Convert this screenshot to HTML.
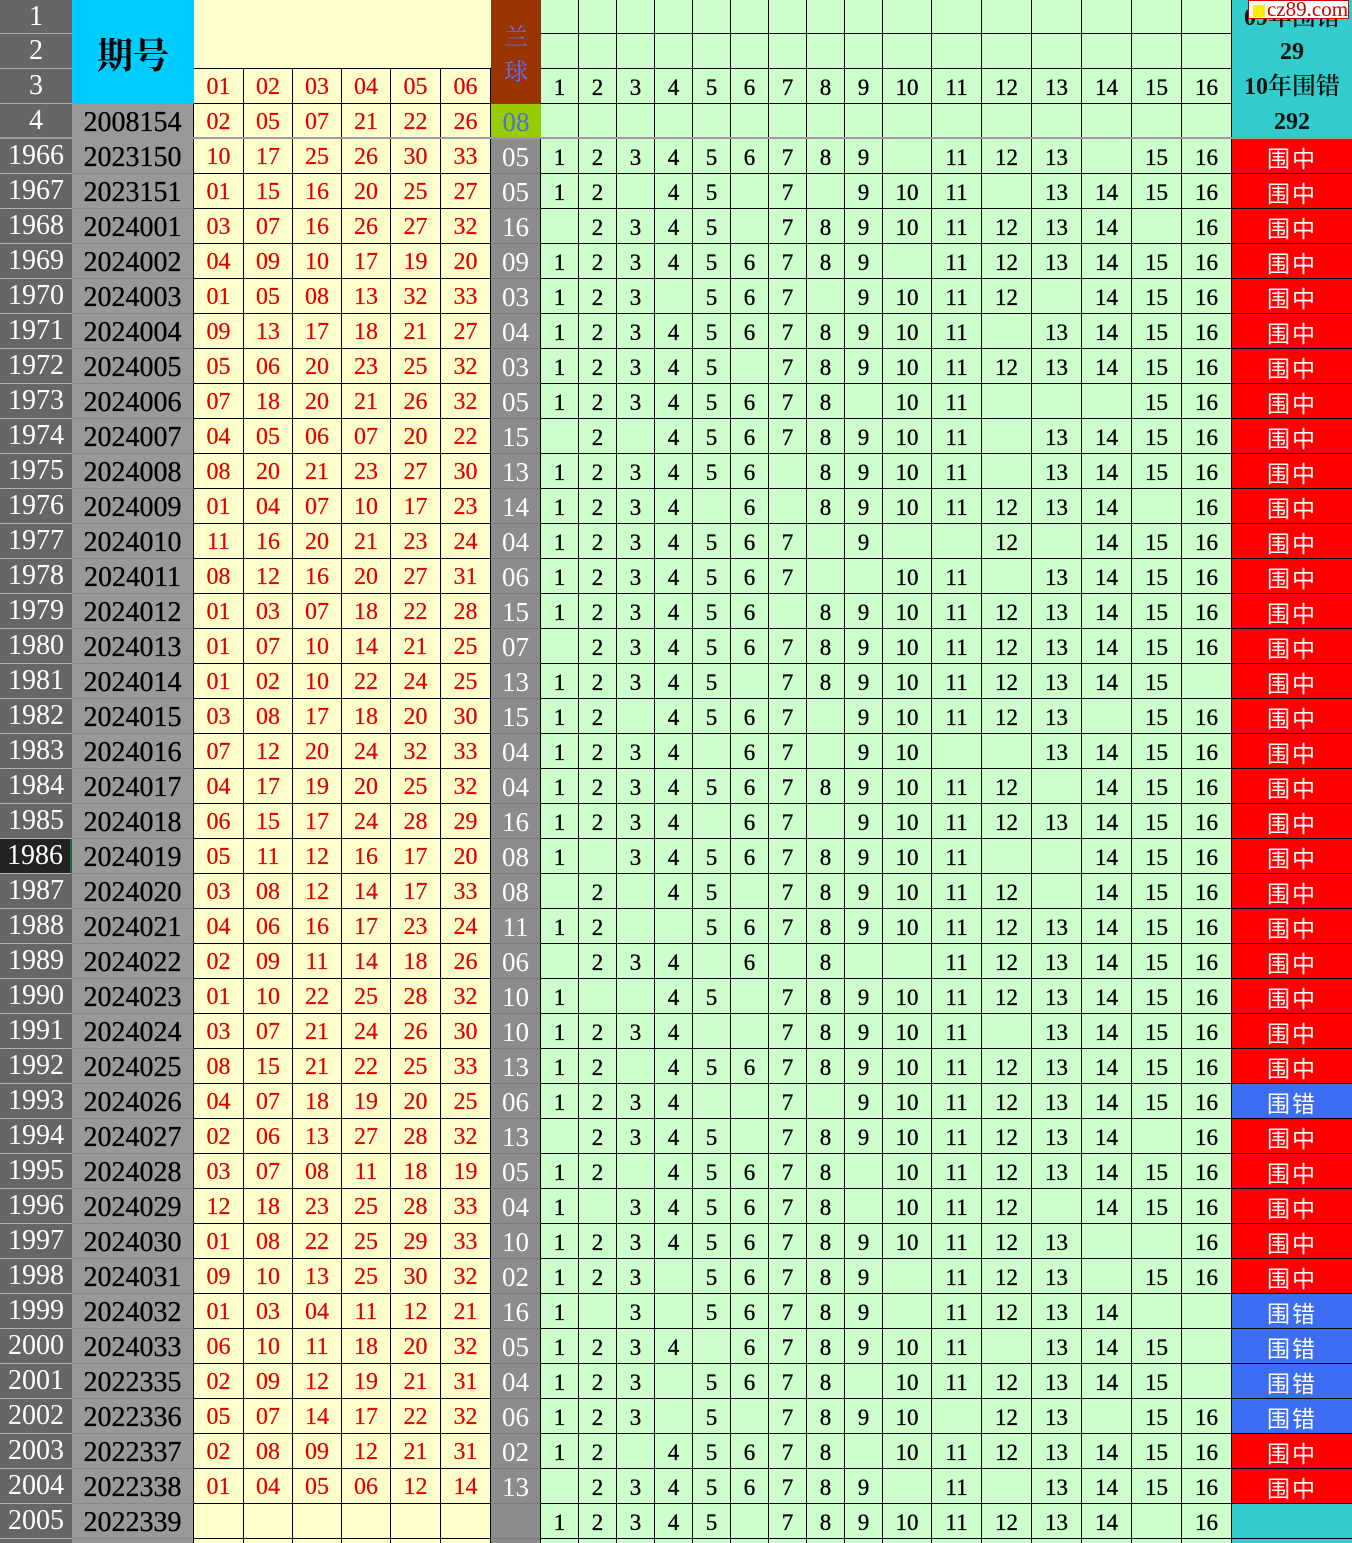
<!DOCTYPE html>
<html><head><meta charset="utf-8">
<style>
*{margin:0;padding:0;box-sizing:border-box}
html,body{width:1352px;height:1543px;overflow:hidden;background:#fff}
body{position:relative;font-family:"Liberation Serif","Noto Serif CJK SC",serif}
.g{display:grid;grid-template-columns:72px 122px 50px 49px 49px 49px 50px 50px 50px repeat(9,38px) 49px repeat(6,50px) 120px}
.h{grid-template-rows:34px 35px 35px 35px;height:139px}
b{font-weight:normal;display:block;text-align:center;overflow:hidden;white-space:nowrap}
.n{background:#666;color:#fff;font-size:28px;line-height:33px;border-bottom:1px solid #aaa}
.q{grid-column:2;grid-row:1/4;background:#00ccff;color:#000;font-family:"Noto Serif CJK SC",serif;font-weight:700;font-size:36px;line-height:104px;padding-top:2px}
.y{grid-column:3/9;grid-row:1/3;background:#ffffcc;border-bottom:1px solid #000}
.lq{grid-column:9;grid-row:1/4;background:#993300;color:#5f72f8;font-family:"Noto Serif CJK SC",serif;font-size:24px;line-height:35px;padding-top:17px;white-space:normal}
.gr{background:#ccffcc;color:#000;font-size:23px;line-height:37px;border-right:1px solid #000;border-bottom:1px solid #000;-webkit-text-stroke:0.35px #000}
.rd{background:#ffffcc;color:#e00000;font-size:24px;line-height:37px;border-right:1px solid #000;border-bottom:1px solid #000;-webkit-text-stroke:0.2px #e00000}
.tl{background:#33cccc;color:#111;font-size:24px;line-height:37px;font-family:"Liberation Serif","Noto Serif CJK SC",serif;font-weight:600}
.p{background:#999;color:#000;font-size:28px;line-height:37px;border-right:1px solid #000;-webkit-text-stroke:0.3px #000}
.lm{background:#99cc00;color:#4f6fd6;font-size:27px;line-height:37px}
.r{height:35px}
.r b{height:35px;line-height:37px}
.r b:nth-child(1){background:#666;color:#fff;font-size:28px;line-height:33px;border-bottom:1px solid #b0b0b0}
.r b:nth-child(2){background:#999;color:#000;font-size:28px;border-right:1px solid #000;border-bottom:1px solid #8a8a8a;-webkit-text-stroke:0.3px #000}
.r b:nth-child(n+3):nth-child(-n+8){background:#ffffcc;color:#e00000;font-size:24px;border-right:1px solid #000;border-bottom:1px solid #000;-webkit-text-stroke:0.2px #e00000}
.r b:nth-child(9){background:#8c8c8c;color:#fff;font-size:27px;border-right:1px solid #000;border-bottom:1px solid #7c7c7c}
.r b:nth-child(n+10):nth-child(-n+25){background:#ccffcc;color:#000;font-size:23px;border-right:1px solid #000;border-bottom:1px solid #000;-webkit-text-stroke:0.35px #000}
.r b:nth-child(26){background:#ff0000;color:#fff;font-family:"Noto Sans CJK SC",sans-serif;font-size:23px;letter-spacing:2px;border-bottom:1px solid #000}
.r b.e{background:#3d6df2}
.r b.t{background:#33cccc}
.r b.k{background:#222;border-right:2px solid #1d6b3d}
.line{position:absolute;left:0;top:137px;width:1352px;height:2px;background:#9c9c9c}
.wm{position:absolute;left:1248px;top:0;width:101px;height:19px;background:#fff;border:1px solid #c00;}
.wm i{position:absolute;left:4px;top:4px;width:12px;height:12px;background:#ffee00}
.wm span{position:absolute;left:18px;top:-3px;font-size:21px;line-height:22px;color:#cc0000;font-family:"Liberation Serif",serif}
</style></head><body>
<div class="g h">
<b class="q">期号</b><b class="y"></b><b class="lq">兰<br>球</b>
<b class="n">1</b><b class="gr"></b><b class="gr"></b><b class="gr"></b><b class="gr"></b><b class="gr"></b><b class="gr"></b><b class="gr"></b><b class="gr"></b><b class="gr"></b><b class="gr"></b><b class="gr"></b><b class="gr"></b><b class="gr"></b><b class="gr"></b><b class="gr"></b><b class="gr"></b><b class="tl">09年围错</b>
<b class="n">2</b><b class="gr"></b><b class="gr"></b><b class="gr"></b><b class="gr"></b><b class="gr"></b><b class="gr"></b><b class="gr"></b><b class="gr"></b><b class="gr"></b><b class="gr"></b><b class="gr"></b><b class="gr"></b><b class="gr"></b><b class="gr"></b><b class="gr"></b><b class="gr"></b><b class="tl">29</b>
<b class="n">3</b><b class="rd">01</b><b class="rd">02</b><b class="rd">03</b><b class="rd">04</b><b class="rd">05</b><b class="rd">06</b><b class="gr">1</b><b class="gr">2</b><b class="gr">3</b><b class="gr">4</b><b class="gr">5</b><b class="gr">6</b><b class="gr">7</b><b class="gr">8</b><b class="gr">9</b><b class="gr">10</b><b class="gr">11</b><b class="gr">12</b><b class="gr">13</b><b class="gr">14</b><b class="gr">15</b><b class="gr">16</b><b class="tl">10年围错</b>
<b class="n">4</b><b class="p">2008154</b><b class="rd">02</b><b class="rd">05</b><b class="rd">07</b><b class="rd">21</b><b class="rd">22</b><b class="rd">26</b><b class="lm">08</b><b class="gr"></b><b class="gr"></b><b class="gr"></b><b class="gr"></b><b class="gr"></b><b class="gr"></b><b class="gr"></b><b class="gr"></b><b class="gr"></b><b class="gr"></b><b class="gr"></b><b class="gr"></b><b class="gr"></b><b class="gr"></b><b class="gr"></b><b class="gr"></b><b class="tl">292</b>
</div>
<div class="line"></div>
<div class="g r"><b>1966</b><b>2023150</b><b>10</b><b>17</b><b>25</b><b>26</b><b>30</b><b>33</b><b>05</b><b>1</b><b>2</b><b>3</b><b>4</b><b>5</b><b>6</b><b>7</b><b>8</b><b>9</b><b></b><b>11</b><b>12</b><b>13</b><b></b><b>15</b><b>16</b><b>围中</b></div>
<div class="g r"><b>1967</b><b>2023151</b><b>01</b><b>15</b><b>16</b><b>20</b><b>25</b><b>27</b><b>05</b><b>1</b><b>2</b><b></b><b>4</b><b>5</b><b></b><b>7</b><b></b><b>9</b><b>10</b><b>11</b><b></b><b>13</b><b>14</b><b>15</b><b>16</b><b>围中</b></div>
<div class="g r"><b>1968</b><b>2024001</b><b>03</b><b>07</b><b>16</b><b>26</b><b>27</b><b>32</b><b>16</b><b></b><b>2</b><b>3</b><b>4</b><b>5</b><b></b><b>7</b><b>8</b><b>9</b><b>10</b><b>11</b><b>12</b><b>13</b><b>14</b><b></b><b>16</b><b>围中</b></div>
<div class="g r"><b>1969</b><b>2024002</b><b>04</b><b>09</b><b>10</b><b>17</b><b>19</b><b>20</b><b>09</b><b>1</b><b>2</b><b>3</b><b>4</b><b>5</b><b>6</b><b>7</b><b>8</b><b>9</b><b></b><b>11</b><b>12</b><b>13</b><b>14</b><b>15</b><b>16</b><b>围中</b></div>
<div class="g r"><b>1970</b><b>2024003</b><b>01</b><b>05</b><b>08</b><b>13</b><b>32</b><b>33</b><b>03</b><b>1</b><b>2</b><b>3</b><b></b><b>5</b><b>6</b><b>7</b><b></b><b>9</b><b>10</b><b>11</b><b>12</b><b></b><b>14</b><b>15</b><b>16</b><b>围中</b></div>
<div class="g r"><b>1971</b><b>2024004</b><b>09</b><b>13</b><b>17</b><b>18</b><b>21</b><b>27</b><b>04</b><b>1</b><b>2</b><b>3</b><b>4</b><b>5</b><b>6</b><b>7</b><b>8</b><b>9</b><b>10</b><b>11</b><b></b><b>13</b><b>14</b><b>15</b><b>16</b><b>围中</b></div>
<div class="g r"><b>1972</b><b>2024005</b><b>05</b><b>06</b><b>20</b><b>23</b><b>25</b><b>32</b><b>03</b><b>1</b><b>2</b><b>3</b><b>4</b><b>5</b><b></b><b>7</b><b>8</b><b>9</b><b>10</b><b>11</b><b>12</b><b>13</b><b>14</b><b>15</b><b>16</b><b>围中</b></div>
<div class="g r"><b>1973</b><b>2024006</b><b>07</b><b>18</b><b>20</b><b>21</b><b>26</b><b>32</b><b>05</b><b>1</b><b>2</b><b>3</b><b>4</b><b>5</b><b>6</b><b>7</b><b>8</b><b></b><b>10</b><b>11</b><b></b><b></b><b></b><b>15</b><b>16</b><b>围中</b></div>
<div class="g r"><b>1974</b><b>2024007</b><b>04</b><b>05</b><b>06</b><b>07</b><b>20</b><b>22</b><b>15</b><b></b><b>2</b><b></b><b>4</b><b>5</b><b>6</b><b>7</b><b>8</b><b>9</b><b>10</b><b>11</b><b></b><b>13</b><b>14</b><b>15</b><b>16</b><b>围中</b></div>
<div class="g r"><b>1975</b><b>2024008</b><b>08</b><b>20</b><b>21</b><b>23</b><b>27</b><b>30</b><b>13</b><b>1</b><b>2</b><b>3</b><b>4</b><b>5</b><b>6</b><b></b><b>8</b><b>9</b><b>10</b><b>11</b><b></b><b>13</b><b>14</b><b>15</b><b>16</b><b>围中</b></div>
<div class="g r"><b>1976</b><b>2024009</b><b>01</b><b>04</b><b>07</b><b>10</b><b>17</b><b>23</b><b>14</b><b>1</b><b>2</b><b>3</b><b>4</b><b></b><b>6</b><b></b><b>8</b><b>9</b><b>10</b><b>11</b><b>12</b><b>13</b><b>14</b><b></b><b>16</b><b>围中</b></div>
<div class="g r"><b>1977</b><b>2024010</b><b>11</b><b>16</b><b>20</b><b>21</b><b>23</b><b>24</b><b>04</b><b>1</b><b>2</b><b>3</b><b>4</b><b>5</b><b>6</b><b>7</b><b></b><b>9</b><b></b><b></b><b>12</b><b></b><b>14</b><b>15</b><b>16</b><b>围中</b></div>
<div class="g r"><b>1978</b><b>2024011</b><b>08</b><b>12</b><b>16</b><b>20</b><b>27</b><b>31</b><b>06</b><b>1</b><b>2</b><b>3</b><b>4</b><b>5</b><b>6</b><b>7</b><b></b><b></b><b>10</b><b>11</b><b></b><b>13</b><b>14</b><b>15</b><b>16</b><b>围中</b></div>
<div class="g r"><b>1979</b><b>2024012</b><b>01</b><b>03</b><b>07</b><b>18</b><b>22</b><b>28</b><b>15</b><b>1</b><b>2</b><b>3</b><b>4</b><b>5</b><b>6</b><b></b><b>8</b><b>9</b><b>10</b><b>11</b><b>12</b><b>13</b><b>14</b><b>15</b><b>16</b><b>围中</b></div>
<div class="g r"><b>1980</b><b>2024013</b><b>01</b><b>07</b><b>10</b><b>14</b><b>21</b><b>25</b><b>07</b><b></b><b>2</b><b>3</b><b>4</b><b>5</b><b>6</b><b>7</b><b>8</b><b>9</b><b>10</b><b>11</b><b>12</b><b>13</b><b>14</b><b>15</b><b>16</b><b>围中</b></div>
<div class="g r"><b>1981</b><b>2024014</b><b>01</b><b>02</b><b>10</b><b>22</b><b>24</b><b>25</b><b>13</b><b>1</b><b>2</b><b>3</b><b>4</b><b>5</b><b></b><b>7</b><b>8</b><b>9</b><b>10</b><b>11</b><b>12</b><b>13</b><b>14</b><b>15</b><b></b><b>围中</b></div>
<div class="g r"><b>1982</b><b>2024015</b><b>03</b><b>08</b><b>17</b><b>18</b><b>20</b><b>30</b><b>15</b><b>1</b><b>2</b><b></b><b>4</b><b>5</b><b>6</b><b>7</b><b></b><b>9</b><b>10</b><b>11</b><b>12</b><b>13</b><b></b><b>15</b><b>16</b><b>围中</b></div>
<div class="g r"><b>1983</b><b>2024016</b><b>07</b><b>12</b><b>20</b><b>24</b><b>32</b><b>33</b><b>04</b><b>1</b><b>2</b><b>3</b><b>4</b><b></b><b>6</b><b>7</b><b></b><b>9</b><b>10</b><b></b><b></b><b>13</b><b>14</b><b>15</b><b>16</b><b>围中</b></div>
<div class="g r"><b>1984</b><b>2024017</b><b>04</b><b>17</b><b>19</b><b>20</b><b>25</b><b>32</b><b>04</b><b>1</b><b>2</b><b>3</b><b>4</b><b>5</b><b>6</b><b>7</b><b>8</b><b>9</b><b>10</b><b>11</b><b>12</b><b></b><b>14</b><b>15</b><b>16</b><b>围中</b></div>
<div class="g r"><b>1985</b><b>2024018</b><b>06</b><b>15</b><b>17</b><b>24</b><b>28</b><b>29</b><b>16</b><b>1</b><b>2</b><b>3</b><b>4</b><b></b><b>6</b><b>7</b><b></b><b>9</b><b>10</b><b>11</b><b>12</b><b>13</b><b>14</b><b>15</b><b>16</b><b>围中</b></div>
<div class="g r"><b class="k">1986</b><b>2024019</b><b>05</b><b>11</b><b>12</b><b>16</b><b>17</b><b>20</b><b>08</b><b>1</b><b></b><b>3</b><b>4</b><b>5</b><b>6</b><b>7</b><b>8</b><b>9</b><b>10</b><b>11</b><b></b><b></b><b>14</b><b>15</b><b>16</b><b>围中</b></div>
<div class="g r"><b>1987</b><b>2024020</b><b>03</b><b>08</b><b>12</b><b>14</b><b>17</b><b>33</b><b>08</b><b></b><b>2</b><b></b><b>4</b><b>5</b><b></b><b>7</b><b>8</b><b>9</b><b>10</b><b>11</b><b>12</b><b></b><b>14</b><b>15</b><b>16</b><b>围中</b></div>
<div class="g r"><b>1988</b><b>2024021</b><b>04</b><b>06</b><b>16</b><b>17</b><b>23</b><b>24</b><b>11</b><b>1</b><b>2</b><b></b><b></b><b>5</b><b>6</b><b>7</b><b>8</b><b>9</b><b>10</b><b>11</b><b>12</b><b>13</b><b>14</b><b>15</b><b>16</b><b>围中</b></div>
<div class="g r"><b>1989</b><b>2024022</b><b>02</b><b>09</b><b>11</b><b>14</b><b>18</b><b>26</b><b>06</b><b></b><b>2</b><b>3</b><b>4</b><b></b><b>6</b><b></b><b>8</b><b></b><b></b><b>11</b><b>12</b><b>13</b><b>14</b><b>15</b><b>16</b><b>围中</b></div>
<div class="g r"><b>1990</b><b>2024023</b><b>01</b><b>10</b><b>22</b><b>25</b><b>28</b><b>32</b><b>10</b><b>1</b><b></b><b></b><b>4</b><b>5</b><b></b><b>7</b><b>8</b><b>9</b><b>10</b><b>11</b><b>12</b><b>13</b><b>14</b><b>15</b><b>16</b><b>围中</b></div>
<div class="g r"><b>1991</b><b>2024024</b><b>03</b><b>07</b><b>21</b><b>24</b><b>26</b><b>30</b><b>10</b><b>1</b><b>2</b><b>3</b><b>4</b><b></b><b></b><b>7</b><b>8</b><b>9</b><b>10</b><b>11</b><b></b><b>13</b><b>14</b><b>15</b><b>16</b><b>围中</b></div>
<div class="g r"><b>1992</b><b>2024025</b><b>08</b><b>15</b><b>21</b><b>22</b><b>25</b><b>33</b><b>13</b><b>1</b><b>2</b><b></b><b>4</b><b>5</b><b>6</b><b>7</b><b>8</b><b>9</b><b>10</b><b>11</b><b>12</b><b>13</b><b>14</b><b>15</b><b>16</b><b>围中</b></div>
<div class="g r"><b>1993</b><b>2024026</b><b>04</b><b>07</b><b>18</b><b>19</b><b>20</b><b>25</b><b>06</b><b>1</b><b>2</b><b>3</b><b>4</b><b></b><b></b><b>7</b><b></b><b>9</b><b>10</b><b>11</b><b>12</b><b>13</b><b>14</b><b>15</b><b>16</b><b class="e">围错</b></div>
<div class="g r"><b>1994</b><b>2024027</b><b>02</b><b>06</b><b>13</b><b>27</b><b>28</b><b>32</b><b>13</b><b></b><b>2</b><b>3</b><b>4</b><b>5</b><b></b><b>7</b><b>8</b><b>9</b><b>10</b><b>11</b><b>12</b><b>13</b><b>14</b><b></b><b>16</b><b>围中</b></div>
<div class="g r"><b>1995</b><b>2024028</b><b>03</b><b>07</b><b>08</b><b>11</b><b>18</b><b>19</b><b>05</b><b>1</b><b>2</b><b></b><b>4</b><b>5</b><b>6</b><b>7</b><b>8</b><b></b><b>10</b><b>11</b><b>12</b><b>13</b><b>14</b><b>15</b><b>16</b><b>围中</b></div>
<div class="g r"><b>1996</b><b>2024029</b><b>12</b><b>18</b><b>23</b><b>25</b><b>28</b><b>33</b><b>04</b><b>1</b><b></b><b>3</b><b>4</b><b>5</b><b>6</b><b>7</b><b>8</b><b></b><b>10</b><b>11</b><b>12</b><b></b><b>14</b><b>15</b><b>16</b><b>围中</b></div>
<div class="g r"><b>1997</b><b>2024030</b><b>01</b><b>08</b><b>22</b><b>25</b><b>29</b><b>33</b><b>10</b><b>1</b><b>2</b><b>3</b><b>4</b><b>5</b><b>6</b><b>7</b><b>8</b><b>9</b><b>10</b><b>11</b><b>12</b><b>13</b><b></b><b></b><b>16</b><b>围中</b></div>
<div class="g r"><b>1998</b><b>2024031</b><b>09</b><b>10</b><b>13</b><b>25</b><b>30</b><b>32</b><b>02</b><b>1</b><b>2</b><b>3</b><b></b><b>5</b><b>6</b><b>7</b><b>8</b><b>9</b><b></b><b>11</b><b>12</b><b>13</b><b></b><b>15</b><b>16</b><b>围中</b></div>
<div class="g r"><b>1999</b><b>2024032</b><b>01</b><b>03</b><b>04</b><b>11</b><b>12</b><b>21</b><b>16</b><b>1</b><b></b><b>3</b><b></b><b>5</b><b>6</b><b>7</b><b>8</b><b>9</b><b></b><b>11</b><b>12</b><b>13</b><b>14</b><b></b><b></b><b class="e">围错</b></div>
<div class="g r"><b>2000</b><b>2024033</b><b>06</b><b>10</b><b>11</b><b>18</b><b>20</b><b>32</b><b>05</b><b>1</b><b>2</b><b>3</b><b>4</b><b></b><b>6</b><b>7</b><b>8</b><b>9</b><b>10</b><b>11</b><b></b><b>13</b><b>14</b><b>15</b><b></b><b class="e">围错</b></div>
<div class="g r"><b>2001</b><b>2022335</b><b>02</b><b>09</b><b>12</b><b>19</b><b>21</b><b>31</b><b>04</b><b>1</b><b>2</b><b>3</b><b></b><b>5</b><b>6</b><b>7</b><b>8</b><b></b><b>10</b><b>11</b><b>12</b><b>13</b><b>14</b><b>15</b><b></b><b class="e">围错</b></div>
<div class="g r"><b>2002</b><b>2022336</b><b>05</b><b>07</b><b>14</b><b>17</b><b>22</b><b>32</b><b>06</b><b>1</b><b>2</b><b>3</b><b></b><b>5</b><b></b><b>7</b><b>8</b><b>9</b><b>10</b><b></b><b>12</b><b>13</b><b></b><b>15</b><b>16</b><b class="e">围错</b></div>
<div class="g r"><b>2003</b><b>2022337</b><b>02</b><b>08</b><b>09</b><b>12</b><b>21</b><b>31</b><b>02</b><b>1</b><b>2</b><b></b><b>4</b><b>5</b><b>6</b><b>7</b><b>8</b><b></b><b>10</b><b>11</b><b>12</b><b>13</b><b>14</b><b>15</b><b>16</b><b>围中</b></div>
<div class="g r"><b>2004</b><b>2022338</b><b>01</b><b>04</b><b>05</b><b>06</b><b>12</b><b>14</b><b>13</b><b></b><b>2</b><b>3</b><b>4</b><b>5</b><b>6</b><b>7</b><b>8</b><b>9</b><b></b><b>11</b><b></b><b>13</b><b>14</b><b>15</b><b>16</b><b>围中</b></div>
<div class="g r"><b>2005</b><b>2022339</b><b></b><b></b><b></b><b></b><b></b><b></b><b></b><b>1</b><b>2</b><b>3</b><b>4</b><b>5</b><b></b><b>7</b><b>8</b><b>9</b><b>10</b><b>11</b><b>12</b><b>13</b><b>14</b><b></b><b>16</b><b class="t"></b></div>
<div class="g r"><b></b><b></b><b></b><b></b><b></b><b></b><b></b><b></b><b></b><b></b><b></b><b></b><b></b><b></b><b></b><b></b><b></b><b></b><b></b><b></b><b></b><b></b><b></b><b></b><b></b><b class="t"></b></div>
<div class="wm"><i></i><span>cz89.com</span></div>
</body></html>
